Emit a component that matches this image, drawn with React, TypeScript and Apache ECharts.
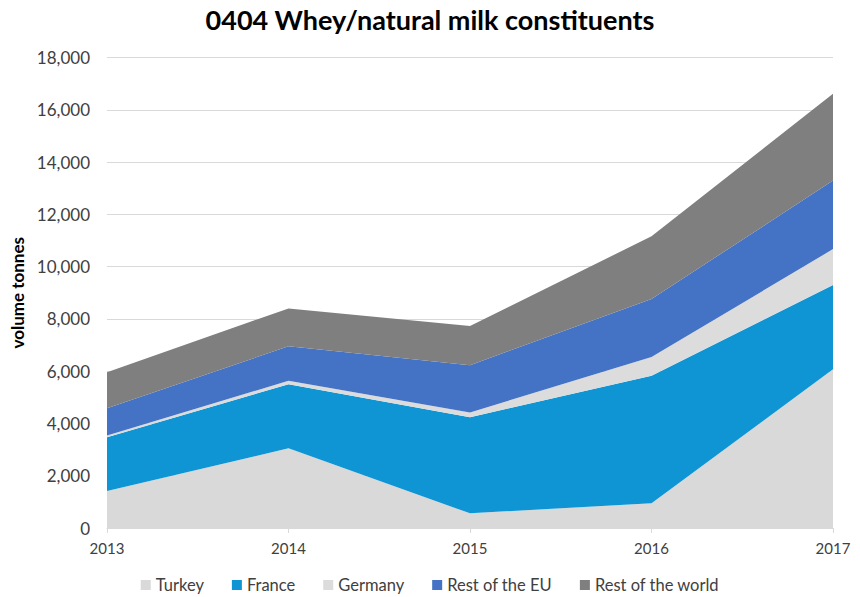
import React, { useEffect, useRef } from "react";
import * as echarts from "echarts";

const years = ["2013", "2014", "2015", "2016", "2017"];
const turkey = [1420, 3050, 560, 950, 6070];
const france = [2050, 2450, 3680, 4870, 3230];
const germany = [70, 130, 180, 720, 1370];
const restEU = [1040, 1320, 1810, 2220, 2620];
const restWorld = [1380, 1450, 1500, 2400, 3320];

const seriesNames = ["Turkey", "France", "Germany", "Rest of the EU", "Rest of the world"];
const seriesData = [turkey, france, germany, restEU, restWorld];
const seriesColors = ["#D9D9D9", "#0F95D4", "#DCDCDC", "#4472C4", "#7F7F7F"];

const FONT = "Lato, 'Open Sans', sans-serif";

export default function App() {
  const ref = useRef<HTMLDivElement>(null);
  useEffect(() => {
    document.body.style.margin = "0";
    const chart = echarts.init(ref.current!, undefined, { renderer: "svg" });
    chart.setOption({
      animation: false,
      backgroundColor: "#FFFFFF",
      textStyle: { fontFamily: FONT },
      title: {
        text: "0404 Whey/natural milk constituents",
        left: "center",
        top: 1,
        textStyle: { fontSize: 27, fontWeight: "bold", color: "#000", fontFamily: FONT },
      },
      grid: { left: 107, right: 27, top: 57.5, bottom: 69, containLabel: false },
      legend: {
        top: 570,
        left: "center",
        itemWidth: 10,
        itemHeight: 10,
        itemGap: 28,
        icon: "rect",
        textStyle: { fontSize: 16.5, color: "#404040", fontFamily: FONT, lineHeight: 20 },
        data: seriesNames,
      },
      xAxis: {
        type: "category",
        data: years,
        boundaryGap: false,
        axisLine: { lineStyle: { color: "#D9D9D9" } },
        axisTick: { show: true, lineStyle: { color: "#D9D9D9" }, length: 5 },
        axisLabel: { fontSize: 15, color: "#404040", margin: 12, fontFamily: FONT },
      },
      yAxis: {
        type: "value",
        min: 0,
        max: 18000,
        interval: 2000,
        name: "volume tonnes",
        nameLocation: "middle",
        nameGap: 77,
        nameRotate: 90,
        nameTextStyle: { fontSize: 17, fontWeight: "bold", color: "#000", fontFamily: FONT },
        axisLine: { show: false },
        axisTick: { show: false },
        splitLine: { lineStyle: { color: "#D9D9D9" } },
        axisLabel: {
          fontSize: 17,
          color: "#404040",
          margin: 17,
          fontFamily: FONT,
          formatter: (v: number) => v.toLocaleString("en-US"),
        },
      },
      series: seriesNames.map((name, i) => ({
        name,
        type: "line",
        stack: "total",
        data: seriesData[i],
        symbol: "none",
        lineStyle: { width: 0 },
        areaStyle: { color: seriesColors[i], opacity: 1 },
        itemStyle: { color: seriesColors[i] },
      })),
    });
    return () => chart.dispose();
  }, []);
  return <div ref={ref} style={{ width: 860, height: 597 }} />;
}
